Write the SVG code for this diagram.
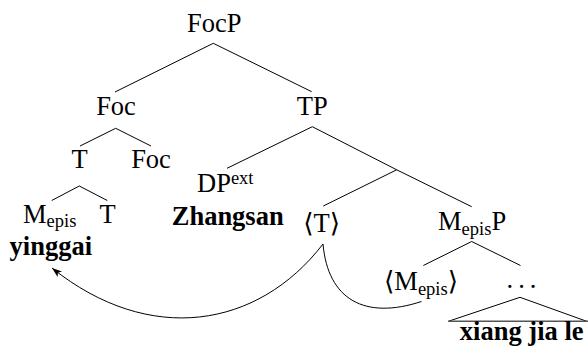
<svg xmlns="http://www.w3.org/2000/svg" width="588" height="352" viewBox="0 0 588 352">
<defs>
<style>
text{font-family:"Liberation Serif","DejaVu Serif",serif;font-size:26.5px;fill:#000}
.b{font-weight:bold}
.m{text-anchor:middle}
.s{font-size:18.5px}
.e line,.e polyline,.e path{stroke:#000;stroke-width:1;fill:none}
</style>
<marker id="ah" viewBox="0 0 10 7" refX="10" refY="3.5" markerWidth="10" markerHeight="7" markerUnits="userSpaceOnUse" orient="auto">
<path d="M0,0 L10,3.5 L0,7 L2.5,3.5 z" fill="#000"/>
</marker>
</defs>
<g id="connectors" class="e">
<polyline points="115,92 213.3,43.3 311.7,91.7"/>
<polyline points="80,146 115.7,128.3 151,146"/>
<polyline points="227,168.3 312.3,126.7 396.7,169.8 471.7,206.7"/>
<line x1="396.7" y1="169.8" x2="323.3" y2="206"/>
<polyline points="51.7,200.5 79.3,186 107.3,200.5"/>
<polyline points="423.3,265.5 471.7,241.5 520.5,265.5"/>
<polyline points="448.3,321.3 520,297.3 586.7,321.3"/>
<line x1="448.3" y1="321.3" x2="588" y2="321.3" style="stroke:#555;stroke-width:1.6"/>
<path d="M323,244 C258,328.5 149.5,346 52,268" marker-end="url(#ah)"/>
<path d="M323,244 C328,300 365,320 421.5,301.5"/>
</g>
<g id="n-FocP"><text class="m" x="214.2" y="31.7">FocP</text></g>
<g id="n-Foc"><text class="m" x="116" y="115">Foc</text></g>
<g id="n-TP"><text class="m" x="312.2" y="115">TP</text></g>
<g id="n-T1"><text class="m" x="79.5" y="168">T</text></g>
<g id="n-Foc2"><text class="m" x="151" y="168">Foc</text></g>
<g id="n-DP"><text x="197" y="191.7">DP<tspan class="s" dy="-8">ext</tspan></text><text class="b m" x="227.7" y="225">Zhangsan</text></g>
<g id="n-Mepis"><text x="23" y="222.7">M<tspan class="s" dy="4.5">epis</tspan></text><text class="b m" x="50.8" y="255">yinggai</text></g>
<g id="n-T2"><text class="m" x="107.5" y="222.7">T</text></g>
<g id="n-Tt"><text class="m" x="321.7" y="231.7">⟨T⟩</text></g>
<g id="n-MepisP"><text x="438" y="230">M<tspan class="s" dy="4.5">epis</tspan><tspan dy="-4.5">P</tspan></text></g>
<g id="n-Mt"><text x="384" y="290">⟨M<tspan class="s" dy="4.5">epis</tspan><tspan dy="-4.5">⟩</tspan></text></g>
<g id="n-dots"><text x="506.5" y="288.3" style="letter-spacing:5px">...</text></g>
<g id="n-xjl"><text class="b m" x="521.7" y="340">xiang jia le</text></g>
</svg>
